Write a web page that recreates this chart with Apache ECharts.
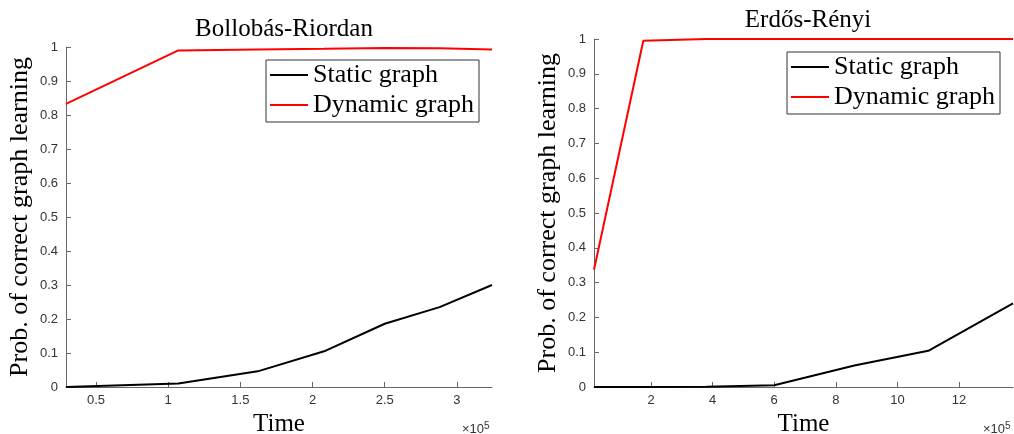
<!DOCTYPE html>
<html>
<head>
<meta charset="utf-8">
<script src="https://cdn.jsdelivr.net/npm/echarts@6/dist/echarts.min.js"></script>
<style>
  html, body { margin: 0; padding: 0; background: #fff; }
  #chart { width: 1014px; height: 434px; }
</style>
</head>
<body>
<div id="chart"></div>
<script>
// Bollobás-Riordan panel (time in units of 1e5)
var timeBR = [0.292, 1.07, 1.62, 2.08, 2.5, 2.88, 3.243];
var staticBR = [0, 0.01, 0.046, 0.105, 0.186, 0.235, 0.30];
var dynamicBR = [0.833, 0.99, 0.993, 0.995, 0.997, 0.996, 0.993];
var ticksBR = [0.5, 1, 1.5, 2, 2.5, 3];

// Erdős-Rényi panel (time in units of 1e5)
var timeER = [0.15, 1.75, 3.8, 6.0, 8.6, 11.0, 13.75];
var staticER = [0, 0, 0.001, 0.005, 0.062, 0.104, 0.24];
var dynamicER = [0.337, 0.995, 1, 1, 1, 1, 1];
var ticksER = [2, 4, 6, 8, 10, 12];

var serif = '"Liberation Serif", "DejaVu Serif", serif';
var sans = '"Liberation Sans", Arial, sans-serif';
var axisGray = '#666';

function pairs(xs, ys) {
  return xs.map(function (x, i) { return [x, ys[i]]; });
}

function xAxisFor(idx, min, max, ticks) {
  return {
    type: 'value', gridIndex: idx, min: min, max: max,
    name: 'Time', nameLocation: 'middle', nameGap: 21,
    nameTextStyle: { fontFamily: serif, fontSize: 25, color: '#000' },
    axisLine: { lineStyle: { color: axisGray, width: 1 } },
    axisTick: { inside: true, length: 5, customValues: ticks, lineStyle: { color: axisGray } },
    axisLabel: { customValues: ticks, fontFamily: sans, fontSize: 13, color: '#333', margin: 7 },
    splitLine: { show: false }
  };
}

function yAxisFor(idx) {
  return {
    type: 'value', gridIndex: idx, min: 0, max: 1, interval: 0.1,
    name: 'Prob. of correct graph learning', nameLocation: 'middle', nameGap: 33,
    nameTextStyle: { fontFamily: serif, fontSize: 26, color: '#000' },
    axisLine: { show: true, lineStyle: { color: axisGray, width: 1 } },
    axisTick: { show: true, inside: true, length: 5, lineStyle: { color: axisGray } },
    axisLabel: { fontFamily: sans, fontSize: 13, color: '#333', margin: 8 },
    splitLine: { show: false }
  };
}

function legendAt(left, top) {
  return {
    left: left, top: top, orient: 'vertical',
    data: ['Static graph', 'Dynamic graph'],
    icon: 'rect', itemWidth: 38, itemHeight: 2, itemGap: 4,
    padding: [2, 5, 4, 4],
    borderColor: '#333', borderWidth: 1, backgroundColor: '#fff',
    textStyle: { fontFamily: serif, fontSize: 26, lineHeight: 26, color: '#000' },
    selectedMode: false
  };
}

function lineSeries(name, color, idx, data) {
  return {
    name: name, type: 'line', xAxisIndex: idx, yAxisIndex: idx,
    data: data, showSymbol: false, symbol: 'none',
    lineStyle: { color: color, width: 2 }, itemStyle: { color: color }
  };
}

var supText = {
  fontFamily: sans, fontSize: 13, fontWeight: 'normal', color: '#333',
  rich: { s: { fontFamily: sans, fontSize: 10, color: '#333', verticalAlign: 'top', padding: [0, 0, 7, 0] } }
};

var chart = echarts.init(document.getElementById('chart'));
chart.setOption({
  animation: false,
  backgroundColor: '#fff',
  title: [
    { text: 'Bollobás-Riordan', left: 279, top: 12, textAlign: 'center',
      textStyle: { fontFamily: serif, fontSize: 25, fontWeight: 'normal', color: '#000' } },
    { text: 'Erdős-Rényi', left: 803, top: 3, textAlign: 'center',
      textStyle: { fontFamily: serif, fontSize: 25, fontWeight: 'normal', color: '#000' } },
    { text: '×10{s|5}', left: 457, top: 416, textStyle: supText },
    { text: '×10{s|5}', left: 978, top: 416, textStyle: supText }
  ],
  legend: [legendAt(266, 60), legendAt(787, 52)],
  grid: [
    { left: 66, top: 47, width: 426, height: 340, outerBoundsMode: 'none' },
    { left: 594, top: 39, width: 419, height: 348, outerBoundsMode: 'none' }
  ],
  xAxis: [xAxisFor(0, 0.292, 3.243, ticksBR), xAxisFor(1, 0.15, 13.75, ticksER)],
  yAxis: [yAxisFor(0), yAxisFor(1)],
  series: [
    lineSeries('Static graph', '#000', 0, pairs(timeBR, staticBR)),
    lineSeries('Dynamic graph', '#ff0000', 0, pairs(timeBR, dynamicBR)),
    lineSeries('Static graph', '#000', 1, pairs(timeER, staticER)),
    lineSeries('Dynamic graph', '#ff0000', 1, pairs(timeER, dynamicER))
  ]
});
</script>
</body>
</html>
